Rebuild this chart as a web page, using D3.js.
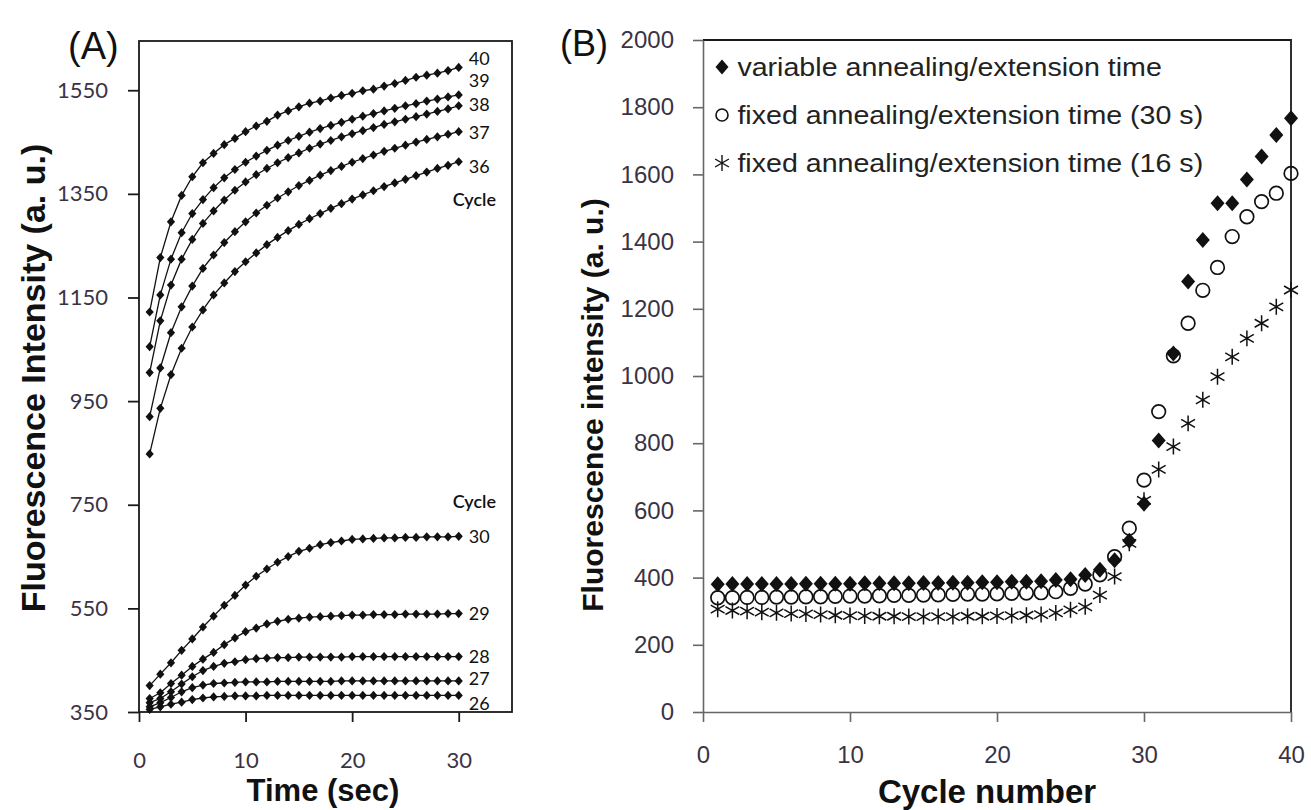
<!DOCTYPE html>
<html>
<head>
<meta charset="utf-8">
<script src="https://cdn.jsdelivr.net/npm/d3@7"></script>
<style>
  body { margin: 0; background: #fff; }
  svg { display: block; }
</style>
</head>
<body>
<svg id="chart" width="1311" height="810"></svg>
<script>
// ── Panel A: fluorescence during annealing/extension, one curve per cycle ──
const TIME = [1,2,3,4,5,6,7,8,9,10,11,12,13,14,15,16,17,18,19,20,21,22,23,24,25,26,27,28,29,30];

const CYCLE_40 = [1122,1227,1296,1347,1383,1410,1428,1445,1457,1470,1481,1490,1502,1510,1518,1525,1529,1535,1540,1544,1549,1552,1558,1563,1569,1575,1579,1583,1588,1594];
const CYCLE_39 = [1055,1155,1224,1275,1312,1339,1362,1381,1397,1411,1423,1434,1444,1453,1461,1469,1476,1482,1488,1494,1500,1505,1510,1515,1520,1524,1529,1533,1537,1541];
const CYCLE_38 = [1005,1105,1174,1224,1262,1293,1317,1338,1357,1373,1387,1399,1410,1420,1429,1438,1446,1453,1460,1466,1472,1478,1484,1489,1494,1499,1504,1509,1514,1520];
const CYCLE_37 = [920,1014,1082,1132,1172,1206,1232,1256,1277,1296,1313,1328,1342,1354,1366,1376,1386,1395,1403,1411,1418,1425,1432,1438,1444,1450,1455,1460,1465,1470];
const CYCLE_36 = [848,936,1001,1052,1093,1126,1155,1178,1200,1219,1236,1252,1266,1279,1291,1302,1312,1322,1331,1340,1348,1356,1364,1371,1378,1385,1392,1399,1405,1412];
const CYCLE_30 = [401,423,445,469,491,514,535,556,575,595,612,626,639,650,660,666,673,677,680,683,684,685,686,686,687,687,688,688,688,689];
const CYCLE_29 = [376,387,405,421,438,452,465,480,493,505,512,520,525,529,531,533,534,535,536,537,537,538,538,538,539,539,539,539,540,540];
const CYCLE_28 = [368,376,389,404,418,430,438,444,447,451,453,454,455,455,456,456,456,456,456,457,457,457,457,457,457,457,457,457,457,457];
const CYCLE_27 = [360,368,378,389,397,402,405,406,407,408,408,408,409,409,409,409,409,409,410,410,410,410,410,410,410,410,410,410,410,410];
const CYCLE_26 = [355,360,365,369,374,377,379,380,381,381,381,382,382,382,382,382,382,382,382,382,382,382,382,382,382,382,382,382,382,382];

const CURVE_NAMES = ['40','39','38','37','36','30','29','28','27','26'];
const CURVES = [CYCLE_40, CYCLE_39, CYCLE_38, CYCLE_37, CYCLE_36, CYCLE_30, CYCLE_29, CYCLE_28, CYCLE_27, CYCLE_26];
const LABEL_NUDGE = [-9, -14, -1, 1, 5, 0, 0, 0, -2, 8];   // px, keeps end labels apart
const NOTE_VALUES = [1340, 757];                            // where the "Cycle" notes sit
const Y_TICKS_A = [350, 550, 750, 950, 1150, 1350, 1550];
const X_TICKS_A = [0, 10, 20, 30];

// ── Panel B: end-point fluorescence per cycle ──
const CYCLE_NO = [1,2,3,4,5,6,7,8,9,10,11,12,13,14,15,16,17,18,19,20,21,22,23,24,25,26,27,28,29,30,31,32,33,34,35,36,37,38,39,40];
const VARIABLE_TIME = [380,381,381,381,381,381,382,382,382,382,383,383,383,383,384,384,385,385,386,386,388,388,389,393,395,408,423,452,510,620,808,1067,1281,1405,1514,1514,1585,1653,1717,1767];
const FIXED_30S = [340,340,341,341,342,342,343,343,344,345,345,346,347,347,348,349,350,351,351,352,353,354,355,358,368,381,408,462,547,690,894,1060,1157,1255,1323,1415,1474,1519,1544,1603];
const FIXED_16S = [306,302,300,297,295,293,292,290,288,287,286,285,285,284,284,284,284,285,285,286,287,288,290,295,304,313,348,403,502,630,722,790,859,929,998,1057,1112,1157,1206,1256];
const LEGEND_LABELS = [
  'variable annealing/extension time',
  'fixed annealing/extension time (30 s)',
  'fixed annealing/extension time (16 s)'
];
const Y_TICKS_B = [0, 200, 400, 600, 800, 1000, 1200, 1400, 1600, 1800, 2000];
const X_TICKS_B = [0, 10, 20, 30, 40];

const svg = d3.select('#chart');
const INK = '#111';
const TICK_TXT = '#3b3344';
const SANS = '"Liberation Sans", Arial, sans-serif';
const plain = d3.format('d');

function diamond(w, h) {
  return `M0,${-h}L${w},0L0,${h}L${-w},0Z`;
}
const asterisk = d3.symbol(d3.symbolAsterisk, 180)();

// ===================== Panel A =====================
const xA = d3.scaleLinear().domain([0, 35]).range([139, 512]);
const yA = d3.scaleLinear().domain([350, 1645]).range([712, 41]);
const gA = svg.append('g');

gA.append('rect')
  .attr('x', xA(0)).attr('y', yA(1645))
  .attr('width', xA(35) - xA(0)).attr('height', yA(350) - yA(1645))
  .attr('fill', 'none').attr('stroke', '#1a1a1a').attr('stroke-width', 1.8);

const axAy = gA.append('g')
  .attr('transform', `translate(${xA(0)},0)`)
  .call(d3.axisLeft(yA).tickValues(Y_TICKS_A).tickFormat(plain)
    .tickSize(11).tickPadding(20).tickSizeOuter(0));
const axAx = gA.append('g')
  .attr('transform', `translate(0,${yA(350)})`)
  .call(d3.axisBottom(xA).tickValues(X_TICKS_A).tickFormat(plain)
    .tickSize(10).tickPadding(30).tickSizeOuter(0));
[axAy, axAx].forEach(ax => {
  ax.select('.domain').remove();
  ax.selectAll('line').attr('stroke', '#1a1a1a').attr('stroke-width', 1.8);
  ax.selectAll('text').attr('font-family', 'Lato, "Open Sans", sans-serif')
    .attr('font-size', 22).attr('fill', TICK_TXT);
});

const lineA = d3.line().x((d, i) => xA(TIME[i])).y(d => yA(d));
CURVES.forEach((vals, k) => {
  gA.append('path').attr('d', lineA(vals))
    .attr('fill', 'none').attr('stroke', INK).attr('stroke-width', 1.3);
  gA.append('g').selectAll('path')
    .data(vals).join('path')
    .attr('d', diamond(4.1, 4.6))
    .attr('transform', (d, i) => `translate(${xA(TIME[i])},${yA(d)})`)
    .attr('fill', INK);
  gA.append('text')
    .attr('x', xA(TIME[TIME.length - 1]) + 10)
    .attr('y', yA(vals[vals.length - 1]) + LABEL_NUDGE[k])
    .attr('dy', '0.36em')
    .attr('font-family', 'Lato, sans-serif').attr('font-size', 18)
    .attr('fill', INK)
    .text(CURVE_NAMES[k]);
});
NOTE_VALUES.forEach(v => {
  gA.append('text')
    .attr('x', xA(TIME[TIME.length - 1]) - 6).attr('y', yA(v))
    .attr('dy', '0.36em')
    .attr('font-family', 'Lato, sans-serif').attr('font-size', 18)
    .attr('font-weight', 600).attr('fill', INK)
    .text('Cycle');
});

gA.append('text')
  .attr('x', 68).attr('y', 59)
  .attr('font-family', SANS).attr('font-size', 38)
  .attr('fill', INK).text('(A)');
gA.append('text')
  .attr('transform', 'translate(45,378) rotate(-90)')
  .attr('text-anchor', 'middle')
  .attr('font-family', SANS).attr('font-size', 34)
  .attr('font-weight', 700).attr('fill', INK)
  .text('Fluorescence Intensity (a. u.)');
gA.append('text')
  .attr('x', 323).attr('y', 801).attr('text-anchor', 'middle')
  .attr('font-family', SANS).attr('font-size', 31)
  .attr('font-weight', 700).attr('fill', INK)
  .text('Time (sec)');

// ===================== Panel B =====================
const xB = d3.scaleLinear().domain([0, 40]).range([703, 1291]);
const yB = d3.scaleLinear().domain([0, 2000]).range([712, 40]);
const gB = svg.append('g');

gB.append('path')
  .attr('d', `M${xB(0)},${yB(2000)}H${xB(40)}V${yB(0)}`)
  .attr('fill', 'none').attr('stroke', '#1a1a1a').attr('stroke-width', 1.8);

const axBy = gB.append('g')
  .attr('transform', `translate(${xB(0)},0)`)
  .call(d3.axisLeft(yB).tickValues(Y_TICKS_B).tickFormat(plain)
    .tickSize(10).tickPadding(19).tickSizeOuter(0));
const axBx = gB.append('g')
  .attr('transform', `translate(0,${yB(0)})`)
  .call(d3.axisBottom(xB).tickValues(X_TICKS_B).tickFormat(plain)
    .tickSize(10).tickPadding(24).tickSizeOuter(0));
[axBy, axBx].forEach(ax => {
  ax.select('.domain').attr('stroke', '#666').attr('stroke-width', 1.6);
  ax.selectAll('line').attr('stroke', '#666').attr('stroke-width', 1.6);
  ax.selectAll('text').attr('font-family', SANS)
    .attr('font-size', 24).attr('fill', TICK_TXT);
});

// circles first, then stars, diamonds on top
gB.append('g').selectAll('circle')
  .data(FIXED_30S).join('circle')
  .attr('cx', (d, i) => xB(CYCLE_NO[i])).attr('cy', d => yB(d))
  .attr('r', 6.8).attr('fill', 'none').attr('stroke', INK).attr('stroke-width', 1.7);
gB.append('g').selectAll('path')
  .data(FIXED_16S).join('path')
  .attr('d', asterisk)
  .attr('transform', (d, i) => `translate(${xB(CYCLE_NO[i])},${yB(d)})`)
  .attr('fill', 'none').attr('stroke', INK).attr('stroke-width', 1.5);
gB.append('g').selectAll('path')
  .data(VARIABLE_TIME).join('path')
  .attr('d', diamond(7, 8))
  .attr('transform', (d, i) => `translate(${xB(CYCLE_NO[i])},${yB(d)})`)
  .attr('fill', INK);

// legend
const legendRows = gB.append('g').selectAll('g')
  .data(LEGEND_LABELS).join('g')
  .attr('transform', (d, i) => `translate(722,${67 + i * 48})`);
legendRows.filter((d, i) => i === 0).append('path').attr('d', diamond(6.5, 7.5)).attr('fill', INK);
legendRows.filter((d, i) => i === 1).append('circle').attr('r', 6)
  .attr('fill', 'none').attr('stroke', INK).attr('stroke-width', 1.6);
legendRows.filter((d, i) => i === 2).append('path').attr('d', asterisk)
  .attr('fill', 'none').attr('stroke', INK).attr('stroke-width', 1.4);
legendRows.append('text')
  .attr('x', 14).attr('dy', '0.36em')
  .attr('transform', 'scale(1.1,1)')
  .attr('font-family', SANS).attr('font-size', 26)
  .attr('fill', '#222')
  .text(d => d);

gB.append('text')
  .attr('x', 560).attr('y', 56)
  .attr('font-family', SANS).attr('font-size', 36)
  .attr('fill', INK).text('(B)');
gB.append('text')
  .attr('transform', 'translate(603,405) rotate(-90)')
  .attr('text-anchor', 'middle')
  .attr('font-family', SANS).attr('font-size', 30)
  .attr('font-weight', 700).attr('fill', INK)
  .text('Fluorescence intensity (a. u.)');
gB.append('text')
  .attr('x', 987).attr('y', 803).attr('text-anchor', 'middle')
  .attr('font-family', SANS).attr('font-size', 33)
  .attr('font-weight', 700).attr('fill', INK)
  .text('Cycle number');
</script>
</body>
</html>
